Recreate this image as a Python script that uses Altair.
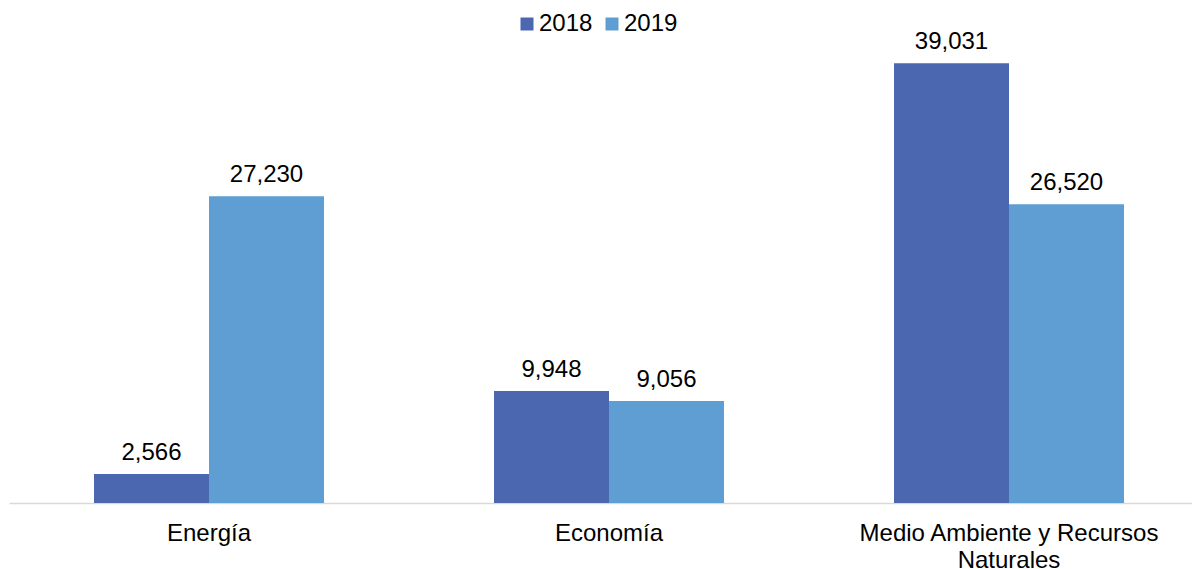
import altair as alt
import pandas as pd

categories = ["Energía", "Economía", "Medio Ambiente y Recursos Naturales"]
years = ["2018", "2019"]
values_2018 = [2566, 9948, 39031]
values_2019 = [27230, 9056, 26520]
colors = ["#4A67B0", "#5F9ED3"]

rows = []
for i, c in enumerate(categories):
    for y, vals in zip(years, [values_2018, values_2019]):
        rows.append({"Categoria": c, "Año": y, "Valor": vals[i], "Label": f"{vals[i]:,}"})
df = pd.DataFrame(rows)

FONT = "Liberation Sans"

label_expr = ("datum.label == 'Medio Ambiente y Recursos Naturales' ? "
              "['Medio Ambiente y Recursos', 'Naturales'] : datum.label")

base = alt.Chart(df).encode(
    x=alt.X("Categoria:N", sort=categories,
            scale=alt.Scale(paddingInner=0.425, paddingOuter=0.19125, align=0.5556),
            axis=alt.Axis(title=None, labelAngle=0, domainColor="#D9D9D9", domainWidth=1.5,
                          ticks=False, labelFontSize=24, labelFont=FONT, labelColor="#000000",
                          labelPadding=18, labelExpr=label_expr, labelLineHeight=27,
                          labelLimit=0, grid=False)),
    xOffset=alt.XOffset("Año:N", sort=years, scale=alt.Scale(paddingInner=0, paddingOuter=0)),
    y=alt.Y("Valor:Q", scale=alt.Scale(domain=[0, 40200]), axis=None),
)

bars = base.mark_bar().encode(
    color=alt.Color("Año:N", sort=years,
                    scale=alt.Scale(domain=years, range=colors),
                    legend=alt.Legend(title=None, orient="none", legendX=506, legendY=-38,
                                      direction="horizontal", symbolType="square",
                                      symbolSize=169, symbolStrokeWidth=0, labelFontSize=24,
                                      labelFont=FONT, labelColor="#000000", columnPadding=7,
                                      labelOffset=0, padding=0, labelLimit=0))
)

text = base.mark_text(baseline="bottom", dy=-9, fontSize=24, font=FONT, color="#000000").encode(
    text="Label:N"
)

chart = alt.layer(bars, text).properties(
    width=1183, height=453,
    autosize=alt.AutoSizeParams(type="none"),
    padding={"left": 1, "top": 42, "right": 0, "bottom": 66},
).configure_view(stroke=None)

chart.save("out.html", embed_options={"renderer": "svg", "actions": False})
